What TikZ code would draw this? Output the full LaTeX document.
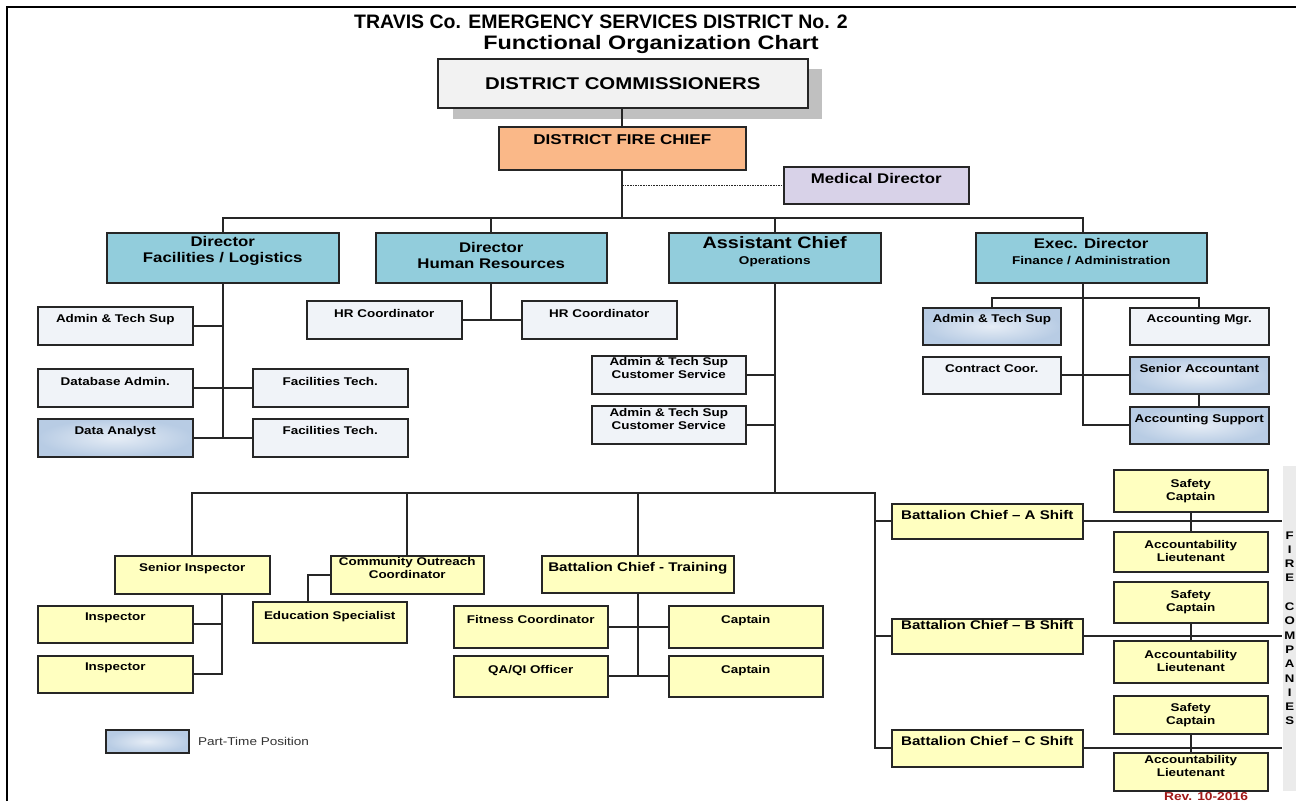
\documentclass[tikz,border=0pt]{standalone}
\usepackage{fontspec}
\setmainfont{Liberation Sans}[FakeStretch=1.2]
\newfontfamily\titlefont{Liberation Sans}

\definecolor{plaingray}{HTML}{F0F3F8}
\definecolor{partblue}{HTML}{B8CCE4}
\definecolor{partlight}{HTML}{E6EDF6}
\definecolor{boxyellow}{HTML}{FFFFC0}
\definecolor{dirteal}{HTML}{92CDDC}
\definecolor{chieforange}{HTML}{FAB888}
\definecolor{medlav}{HTML}{D8D2E8}
\definecolor{commgray}{HTML}{F2F2F2}
\definecolor{shadowgray}{HTML}{C0C0C0}
\definecolor{revred}{HTML}{A01818}

\newcommand\boxfont{\bfseries\fontsize{11.2}{13.5}\selectfont}
\newcommand\dirfont{\bfseries\fontsize{14}{16}\selectfont}
\newcommand\asstfont{\bfseries\fontsize{16.5}{16}\selectfont}
\newcommand\bcfont{\bfseries\fontsize{12.6}{14}\selectfont}
\newcommand\subfont{\fontsize{11.3}{12}\selectfont}

\begin{document}
\begin{tikzpicture}
  [x=1pt, y=-1pt,
   box/.style={draw=black!85, line width=1.5pt, rectangle, inner sep=0pt, anchor=north west},
   sbox/.style={minimum width=155pt, minimum height=38pt},
   plain/.style={box, fill=plaingray},
   part/.style={box, inner color=partlight, outer color=partblue},
   yel/.style={box, fill=boxyellow},
   dirbox/.style={box, fill=dirteal, minimum height=50pt},
   txt/.style={anchor=north, inner sep=0pt, align=center, font=\boxfont},
   conn/.style={draw=black!85, line width=1.6pt}]
  \useasboundingbox (0,0) rectangle (1296,801);
  \draw[line width=2.5pt] (7,801) -- (7,7) -- (1296,7);

  % title
  \node[font=\titlefont\bfseries\fontsize{19.5}{20}\selectfont] (title) at (601,21.5) {TRAVIS Co. EMERGENCY SERVICES DISTRICT No. 2};
  \node[font=\bfseries\fontsize{19.5}{20}\selectfont] (subtitle) at (651,44) {Functional Organization Chart};

  % board and chief
  \fill[shadowgray] (453,69) rectangle (822,119);
  \node[box, fill=commgray, minimum width=370pt, minimum height=49pt,
    font=\bfseries\fontsize{17}{18}\selectfont] (comm) at (437,58) {DISTRICT COMMISSIONERS};
  \node[box, fill=chieforange, minimum width=247pt, minimum height=43pt,
    label={[txt, yshift=-8pt, font=\bfseries\fontsize{14.2}{15}\selectfont]north:DISTRICT FIRE CHIEF}] (chief) at (498,126) {};
  \node[box, fill=medlav, minimum width=185pt, minimum height=37pt,
    label={[txt, yshift=-7pt, font=\dirfont]north:Medical Director}] (med) at (783,166) {};
  \draw[conn] (chief.north) -- (chief.north |- comm.south);
  \draw[conn, densely dotted, line width=1.1pt] (chief.south |- med.west) -- (med.west);

  % directors
  \node[dirbox, minimum width=232pt,
    label={[txt, yshift=-4pt, font=\dirfont]north:{Director\\Facilities / Logistics}}] (fdir) at (106,232) {};
  \node[dirbox, minimum width=231pt,
    label={[txt, yshift=-10pt, font=\dirfont]north:{Director\\Human Resources}}] (hdir) at (375,232) {};
  \node[dirbox, minimum width=212pt,
    label={[txt, yshift=-4pt, font=\asstfont]north:{Assistant Chief\\{\subfont Operations}}}] (adir) at (668,232) {};
  \node[dirbox, minimum width=231pt,
    label={[txt, yshift=-6pt, font=\dirfont]north:{Exec. Director\\{\subfont Finance / Administration}}}] (edir) at (975,232) {};
  \draw[conn] (fdir.north) -- ++(0,-14) coordinate (fbus) -| ([xshift=-8pt]edir.north);
  \draw[conn] (chief.south) -- (chief.south |- fbus);
  \draw[conn] (hdir.north) -- (hdir.north |- fbus);
  \draw[conn] (adir.north) -- (adir.north |- fbus);

  % facilities / logistics
  \node[plain, sbox, label={[txt, yshift=-8pt]north:Admin \& Tech Sup}] (fadm) at (37,306) {};
  \node[plain, sbox, label={[txt, yshift=-9pt]north:Database Admin.}] (fdb) at (37,368) {};
  \node[part, sbox, label={[txt, yshift=-8pt]north:Data Analyst}] (fdata) at (37,418) {};
  \node[plain, sbox, label={[txt, yshift=-9pt]north:Facilities Tech.}] (ftech1) at (252,368) {};
  \node[plain, sbox, label={[txt, yshift=-8pt]north:Facilities Tech.}] (ftech2) at (252,418) {};
  \draw[conn] (fdir.south) -- (fdir.south |- fdata.east);
  \draw[conn] (fadm.east) -- (fadm.east -| fdir.south);
  \draw[conn] (fdb.east) -- (ftech1.west);
  \draw[conn] (fdata.east) -- (ftech2.west);

  % human resources
  \node[plain, sbox, label={[txt, yshift=-9pt]north:HR Coordinator}] (hr1) at (306,300) {};
  \node[plain, sbox, label={[txt, yshift=-9pt]north:HR Coordinator}] (hr2) at (521,300) {};
  \draw[conn] (hdir.south) -- (hdir.south |- hr1.east);
  \draw[conn] (hr1.east) -- (hr2.west);

  % operations
  \node[plain, minimum width=154pt, minimum height=38pt,
    label={[txt, yshift=-2pt]north:{Admin \& Tech Sup\\Customer Service}}] (cs1) at (591,355) {};
  \node[plain, minimum width=154pt, minimum height=38pt,
    label={[txt, yshift=-3pt]north:{Admin \& Tech Sup\\Customer Service}}] (cs2) at (591,405) {};
  \coordinate (obus) at (adir.south |- 0,493);
  \draw[conn] (adir.south) -- (obus);
  \draw[conn] (cs1.east) -- (cs1.east -| adir.south);
  \draw[conn] (cs2.east) -- (cs2.east -| adir.south);

  \node[yel, sbox, label={[txt, yshift=-8pt]north:Senior Inspector}] (sins) at (114,555) {};
  \node[yel, sbox, minimum height=37pt, label={[txt, yshift=-8pt]north:Inspector}] (insp1) at (37,605) {};
  \node[yel, sbox, minimum height=37pt, label={[txt, yshift=-8pt]north:Inspector}] (insp2) at (37,655) {};
  \coordinate (itrunk) at ([xshift=30pt]sins.south);
  \draw[conn] (itrunk) |- (insp2.east);
  \draw[conn] (insp1.east) -- (insp1.east -| itrunk);

  \node[yel, minimum width=153pt, minimum height=38pt,
    label={[txt, yshift=-2pt]north:{Community Outreach\\Coordinator}}] (outr) at (330,555) {};
  \node[yel, minimum width=154pt, minimum height=41pt,
    label={[txt, yshift=-10pt]north:Education Specialist}] (edu) at (252,601) {};
  \draw[conn] ([xshift=-22pt]edu.north) |- (outr.west);

  \node[yel, minimum width=192pt, minimum height=37pt,
    label={[txt, yshift=-7.5pt, font=\bcfont]north:Battalion Chief - Training}] (train) at (541,555) {};
  \node[yel, minimum width=154pt, minimum height=42pt, label={[txt, yshift=-10pt]north:Fitness Coordinator}] (fit) at (453,605) {};
  \node[yel, minimum width=154pt, minimum height=41pt, label={[txt, yshift=-10pt]north:QA/QI Officer}] (qa) at (453,655) {};
  \node[yel, minimum width=154pt, minimum height=42pt, label={[txt, yshift=-10pt]north:Captain}] (cap1) at (668,605) {};
  \node[yel, minimum width=154pt, minimum height=41pt, label={[txt, yshift=-10pt]north:Captain}] (cap2) at (668,655) {};
  \draw[conn] (train.south) -- (train.south |- qa.east);
  \draw[conn] (fit.east) -- (cap1.west);
  \draw[conn] (qa.east) -- (cap2.west);

  \draw[conn] (obus) -| (sins.north);
  \draw[conn] (obus) -| (outr.north);
  \draw[conn] (obus) -| (train.north);

  % shifts
  \node[yel, minimum width=191pt, minimum height=35pt,
    label={[txt, yshift=-7.5pt, font=\bcfont]north:Battalion Chief -- A Shift}] (bca) at (891,503) {};
  \node[yel, minimum width=191pt, minimum height=35pt,
    label={[txt, yshift=-2.5pt, font=\bcfont]north:Battalion Chief -- B Shift}] (bcb) at (891,618) {};
  \node[yel, minimum width=191pt, minimum height=37pt,
    label={[txt, yshift=-7.5pt, font=\bcfont]north:Battalion Chief -- C Shift}] (bcc) at (891,729) {};
  \coordinate (bctrunk) at ([xshift=-16pt]bca.west);
  \draw[conn] (obus) -| (bctrunk) -- (bca.west);
  \draw[conn] (bctrunk) |- (bcb.west);
  \draw[conn] (bctrunk) |- (bcc.west);

  \node[box, draw=none, fill=black!8, minimum width=14pt, minimum height=325pt, align=center,
    font=\bfseries\fontsize{11}{14.3}\selectfont] (fire) at (1282,465)
    {F\\I\\R\\E\\[14.3pt]C\\O\\M\\P\\A\\N\\I\\E\\S};
  \draw[conn] (bca.east) -- (bca.east -| fire.west);
  \draw[conn] (bcb.east) -- (bcb.east -| fire.west);
  \draw[conn] (bcc.east) -- (bcc.east -| fire.west);

  \node[yel, minimum width=154pt, minimum height=42pt, label={[txt, yshift=-10pt]north:{Safety\\Captain}}] (sc1) at (1113,469) {};
  \node[yel, minimum width=154pt, minimum height=40pt, label={[txt, yshift=-9pt]north:{Accountability\\Lieutenant}}] (al1) at (1113,531) {};
  \node[yel, minimum width=154pt, minimum height=41pt, label={[txt, yshift=-9pt]north:{Safety\\Captain}}] (sc2) at (1113,581) {};
  \node[yel, minimum width=154pt, minimum height=42pt, label={[txt, yshift=-10pt]north:{Accountability\\Lieutenant}}] (al2) at (1113,640) {};
  \node[yel, minimum width=154pt, minimum height=38pt, label={[txt, yshift=-8pt]north:{Safety\\Captain}}] (sc3) at (1113,695) {};
  \node[yel, minimum width=154pt, minimum height=38pt, label={[txt, yshift=-3pt]north:{Accountability\\Lieutenant}}] (al3) at (1113,752) {};
  \draw[conn] (sc1.south) -- (al1.north);
  \draw[conn] (sc2.south) -- (al2.north);
  \draw[conn] (sc3.south) -- (al3.north);

  % finance / administration
  \coordinate (etrunk) at ([xshift=-8pt]edir.south);
  \node[part, minimum width=138pt, minimum height=37pt, label={[txt, yshift=-7pt]north:Admin \& Tech Sup}] (eadm) at (922,307) {};
  \node[plain, minimum width=139pt, minimum height=37pt, label={[txt, yshift=-7pt]north:Accounting Mgr.}] (amgr) at (1129,307) {};
  \node[plain, minimum width=138pt, minimum height=37pt, label={[txt, yshift=-8pt]north:Contract Coor.}] (ccoor) at (922,356) {};
  \node[part, minimum width=139pt, minimum height=37pt, label={[txt, yshift=-8pt]north:Senior Accountant}] (sacc) at (1129,356) {};
  \node[part, minimum width=139pt, minimum height=37pt, label={[txt, yshift=-8pt]north:Accounting Support}] (acsup) at (1129,406) {};
  \draw[conn] (etrunk) |- (acsup.west);
  \draw[conn] (eadm.north) -- ++(0,-9) -| (amgr.north);
  \draw[conn] (ccoor.east) -- (sacc.west);
  \draw[conn] (sacc.south) -- (acsup.north);

  % legend
  \node[part, minimum width=83pt, minimum height=23pt,
    label={[font=\subfont, text=black!80, xshift=5pt]east:Part-Time Position}] (legend) at (105,729) {};
  \node[font=\bfseries\fontsize{11.5}{12}\selectfont, text=revred] (rev) at (1206,797) {Rev. 10-2016};
\end{tikzpicture}
\end{document}
